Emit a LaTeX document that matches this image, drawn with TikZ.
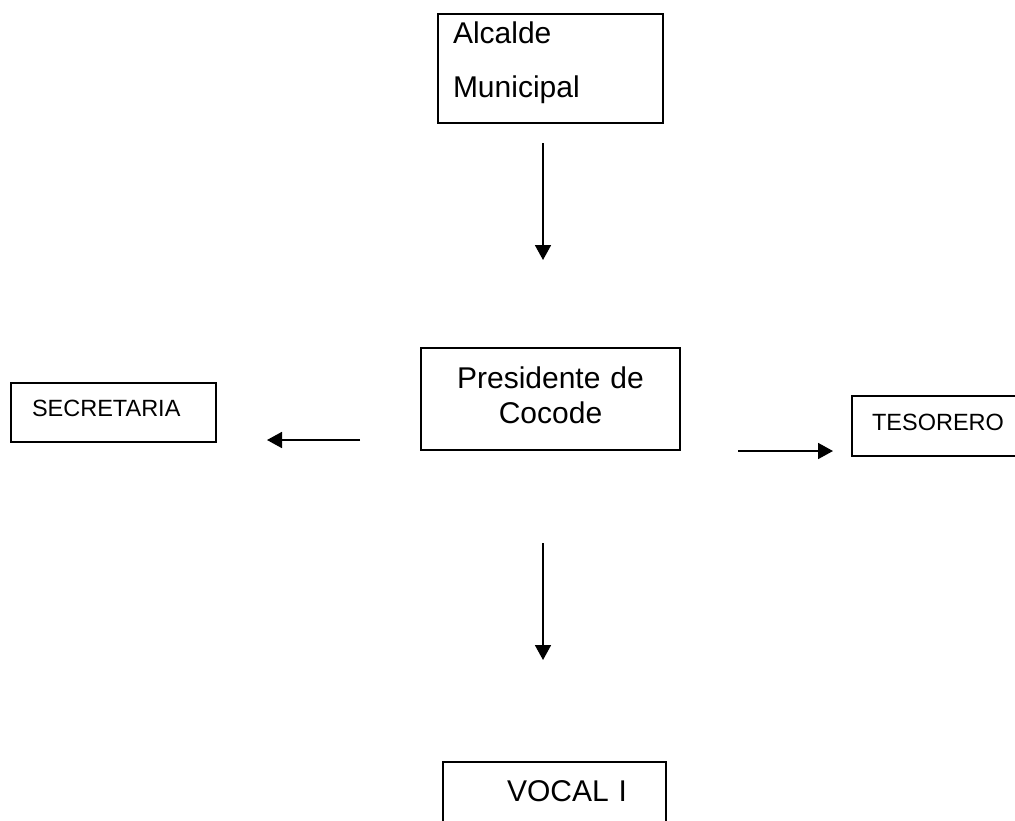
\documentclass[tikz,border=0pt]{standalone}
\usepackage{fontspec}
\setmainfont{Liberation Sans}
\usetikzlibrary{calc}
\usetikzlibrary{arrows.meta}

\begin{document}
\begin{tikzpicture}[x=1pt, y=-1pt,
    caja/.style={draw, line width=1.8pt, inner sep=0pt, outer sep=0pt},
    grande/.style={font=\fontsize{30}{35}\selectfont},
    chico/.style={font=\fontsize{23.5}{28}\selectfont},
    flecha/.style={line width=1.8pt, -{Triangle[length=15pt,width=16pt]}}]
    \useasboundingbox (0,0) rectangle (1015,820);
    \clip (0,0) rectangle (1015,820);
    \node[caja, font=\fontsize{30}{54}\selectfont, align=left, inner xsep=15pt, text width=195pt,
        minimum width=225pt, minimum height=109pt, text height=22pt, text depth=73pt]
        (alcalde) at (550.5,68.5) {Alcalde\\Municipal};
    \node[caja, grande, align=center, text width=259pt, minimum width=259pt, minimum height=102pt,
        text height=22pt, text depth=44pt] (pres) at (550.5,399) {Presidente de\\Cocode};
    \node[caja, chico, align=left, inner xsep=21pt, text width=163pt, minimum width=205pt,
        minimum height=59pt, text height=17pt, text depth=10pt] (secre) at (113.5,412.5) {SECRETARIA};
    \node[caja, chico, align=center, text width=172pt, minimum width=172pt,
        minimum height=60pt, text height=18pt, text depth=10pt] (tes) at (938,426) {TESORERO};
    \node[caja, grande, align=left, text width=223pt, minimum width=223pt,
        minimum height=88pt, text height=22pt, text depth=32pt] (vocal) at (554.5,806) {\hspace*{64pt}VOCAL I};
    \draw[flecha] ($(alcalde.south)+(-7.5,20)$) -- ($(pres.north)+(-7.5,-88)$);
    \draw[flecha] ($(pres.south west)+(-61,-10)$) -- ($(secre.south east)+(51,-2)$);
    \draw[flecha] ($(pres.south east)+(58,1)$) -- ($(tes.south west)+(-19,-5)$);
    \draw[flecha] ($(pres.south)+(-7.5,93)$) -- ($(vocal.north)+(-11.5,-102)$);
\end{tikzpicture}
\end{document}
